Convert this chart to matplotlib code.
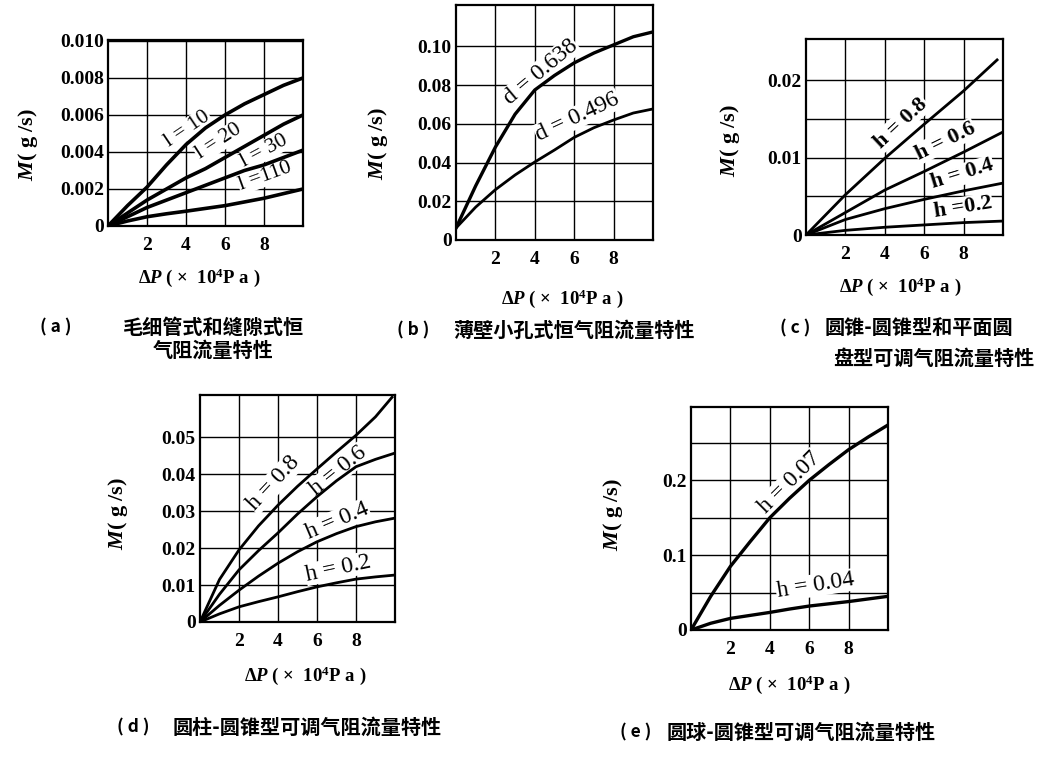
import numpy as np
import matplotlib
matplotlib.use("Agg")
import matplotlib.pyplot as plt

# 字体设置
plt.rcParams['font.family'] = ['Liberation Serif', 'Noto Sans CJK SC', 'DejaVu Sans']
plt.rcParams['mathtext.fontset'] = 'custom'
plt.rcParams['mathtext.it'] = 'Liberation Serif:italic:bold'
plt.rcParams['mathtext.rm'] = 'Liberation Serif:bold'
plt.rcParams['mathtext.bf'] = 'Liberation Serif:bold'

# ---- (a) 毛细管式和缝隙式恒气阻 ----
x_a = [0, 1, 2, 3, 4, 5, 6, 7, 8, 9, 10]
m_l10 = [0, 0.0011, 0.0021, 0.0033, 0.0044, 0.0053, 0.0060, 0.0066, 0.0071, 0.0076, 0.0080]
m_l20 = [0, 0.0007, 0.0014, 0.0020, 0.0026, 0.0031, 0.0037, 0.0043, 0.0049, 0.0055, 0.0060]
m_l30 = [0, 0.0005, 0.0010, 0.0014, 0.0018, 0.0022, 0.0026, 0.0030, 0.0033, 0.0037, 0.0041]
m_l110 = [0, 0.00027, 0.0005, 0.00066, 0.0008, 0.00095, 0.0011, 0.0013, 0.0015, 0.00175, 0.0020]
labels_a = ['l = 10', 'l = 20', 'l = 30', 'l =110']

# ---- (b) 薄壁小孔式 ----
x_b = [0, 1, 2, 3, 4, 5, 6, 7, 8, 9, 10]
m_d638 = [0.0062, 0.028, 0.048, 0.065, 0.0775, 0.085, 0.0915, 0.0966, 0.1008, 0.105, 0.1075]
m_d496 = [0.0062, 0.017, 0.026, 0.0336, 0.0403, 0.0465, 0.053, 0.058, 0.062, 0.0656, 0.0677]
labels_b = ['d = 0.638', 'd = 0.496']

# ---- (c) 圆锥-圆锥型 ----
x_c = [0, 2, 4, 6, 8, 9.7]
x_c2 = [0, 2, 4, 6, 8, 10]
m_c08 = [0, 0.0052, 0.0099, 0.0143, 0.0186, 0.0226]
m_c06 = [0, 0.0029, 0.0058, 0.0082, 0.0107, 0.0133]
m_c04 = [0, 0.0020, 0.0034, 0.0046, 0.0057, 0.0067]
m_c02 = [0, 0.0006, 0.0010, 0.0013, 0.0016, 0.0018]
labels_c = ['h = 0.8', 'h = 0.6', 'h = 0.4', 'h =0.2']

# ---- (d) 圆柱-圆锥型 ----
x_d = [0, 1, 2, 3, 4, 5, 6, 7, 8, 9, 9.85]
x_d2 = [0, 1, 2, 3, 4, 5, 6, 7, 8, 9, 10]
m_d08 = [0, 0.0115, 0.0195, 0.026, 0.0316, 0.0367, 0.0414, 0.046, 0.0505, 0.0555, 0.0608]
m_d06 = [0, 0.0075, 0.0141, 0.0193, 0.0241, 0.0292, 0.0339, 0.0382, 0.0420, 0.0440, 0.0457]
m_d04 = [0, 0.0045, 0.0086, 0.0124, 0.0159, 0.0190, 0.0217, 0.0239, 0.0258, 0.0271, 0.0281]
m_d02 = [0, 0.0022, 0.0041, 0.0055, 0.0068, 0.0082, 0.0095, 0.0106, 0.0116, 0.0122, 0.0127]
labels_d = ['h = 0.8', 'h = 0.6', 'h = 0.4', 'h = 0.2']

# ---- (e) 圆球-圆锥型 ----
x_e = [0, 1, 2, 3, 4, 5, 6, 7, 8, 9, 10]
m_e07 = [0, 0.045, 0.085, 0.118, 0.150, 0.176, 0.200, 0.221, 0.241, 0.258, 0.274]
m_e04 = [0, 0.009, 0.0155, 0.0195, 0.0235, 0.028, 0.032, 0.035, 0.038, 0.0415, 0.045]
labels_e = ['h = 0.07', 'h = 0.04']

x_ticks = [2, 4, 6, 8]
cap_prefix = ['( a )', '( b )', '( c )', '( d )', '( e )']
captions = ['毛细管式和缝隙式恒', '气阻流量特性',
            '薄壁小孔式恒气阻流量特性',
            '圆锥-圆锥型和平面圆', '盘型可调气阻流量特性',
            '圆柱-圆锥型可调气阻流量特性',
            '圆球-圆锥型可调气阻流量特性']

W, H = 1040, 758
fig = plt.figure(figsize=(10.4, 7.58), dpi=100)


def px_rect(left, top, right, bottom):
    return [left / W, 1 - bottom / H, (right - left) / W, (bottom - top) / H]


def make_axes(rect, ytop, grid_y, label_txt):
    ax = fig.add_axes(rect)
    ax.set_xlim(0, 10)
    ax.set_ylim(0, ytop)
    ax.set_xticks(x_ticks)
    ax.set_xticklabels([str(t) for t in x_ticks], fontsize=14, fontweight='bold')
    ax.set_yticks(grid_y)
    ax.set_yticklabels([label_txt.get(v, '') for v in grid_y], fontsize=14, fontweight='bold')
    ax.tick_params(length=0, pad=3)
    ax.tick_params(axis='x', pad=8)
    ax.grid(True, color='black', lw=1.0)
    for s in ax.spines.values():
        s.set_linewidth(1.6)
    ax.set_ylabel(r'$M$( g /s)', fontsize=16, fontweight='bold')
    ax.set_xlabel(r'$\mathit{\Delta P}$ ( ×  10$^{4}$P a )', fontsize=13.5, fontweight='bold')
    return ax


def curve_label(ax, txt, x, y, rot, size=17, weight='normal', lift=3.0):
    # 文字沿曲线法向稍微抬高
    a = np.radians(rot)
    ax.annotate(txt, (x, y), xytext=(-np.sin(a) * lift, np.cos(a) * lift),
                textcoords='offset points', rotation=rot, rotation_mode='anchor',
                ha='center', va='center', fontsize=size, family='Liberation Serif',
                fontweight=weight, bbox=dict(fc='white', ec='none', pad=0.5), zorder=3)


# (a)
ax = make_axes(px_rect(108, 40, 303, 226), 0.01005,
               [0, 0.002, 0.004, 0.006, 0.008, 0.010],
               {0: '0', 0.002: '0.002', 0.004: '0.004', 0.006: '0.006',
                0.008: '0.008', 0.010: '0.010'})
for m in [m_l10, m_l20, m_l30, m_l110]:
    ax.plot(x_a, m, color='black', lw=2.6, zorder=4)
for txt, x, y, r in zip(labels_a, [4.24, 5.83, 8.14, 8.14], [0.0050, 0.0043, 0.0038, 0.0024], [34, 33, 28, 20]):
    curve_label(ax, txt, x, y, r, size=15.5, lift=4)
ax.yaxis.set_label_coords(-0.35, 0.44)
ax.xaxis.set_label_coords(0.47, -0.22)

# (b)
ax = make_axes(px_rect(456, 5, 653, 240), 0.1214,
               [0, 0.02, 0.04, 0.06, 0.08, 0.10],
               {0: '0', 0.02: '0.02', 0.04: '0.04', 0.06: '0.06',
                0.08: '0.08', 0.10: '0.10'})
ax.plot(x_b, m_d638, color='black', lw=2.4, zorder=4)
ax.plot(x_b, m_d496, color='black', lw=2.0, zorder=4)
for txt, x, y, r in zip(labels_b, [4.43, 6.26], [0.0853, 0.0617], [40, 25]):
    curve_label(ax, txt, x, y, r)
ax.yaxis.set_label_coords(-0.335, 0.41)
ax.xaxis.set_label_coords(0.54, -0.20)

# (c)
ax = make_axes(px_rect(806, 39, 1003, 235), 0.0253,
               [0, 0.005, 0.01, 0.015, 0.02],
               {0: '0', 0.01: '0.01', 0.02: '0.02'})
ax.plot(x_c, m_c08, color='black', lw=2.0, zorder=4)
for m in [m_c06, m_c04, m_c02]:
    ax.plot(x_c2, m, color='black', lw=2.0, zorder=4)
for txt, x, y, r in zip(labels_c, [4.94, 7.14, 7.99, 7.99], [0.0142, 0.0118, 0.0075, 0.0032], [43, 26, 17, 9]):
    curve_label(ax, txt, x, y, r, size=16, weight='bold', lift=2)
ax.yaxis.set_label_coords(-0.325, 0.48)
ax.xaxis.set_label_coords(0.48, -0.204)

# (d)
ax = make_axes(px_rect(200, 395, 395, 622), 0.0614,
               [0, 0.01, 0.02, 0.03, 0.04, 0.05],
               {0: '0', 0.01: '0.01', 0.02: '0.02', 0.03: '0.03',
                0.04: '0.04', 0.05: '0.05'})
ax.plot(x_d, m_d08, color='black', lw=2.0, zorder=4)
for m in [m_d06, m_d04, m_d02]:
    ax.plot(x_d2, m, color='black', lw=2.0, zorder=4)
for txt, x, y, r in zip(labels_d, [3.88, 7.18, 7.09, 7.13], [0.0370, 0.0402, 0.0267, 0.0138], [47, 39, 23, 12]):
    curve_label(ax, txt, x, y, r, lift=2)
ax.yaxis.set_label_coords(-0.36, 0.48)
ax.xaxis.set_label_coords(0.54, -0.185)

# (e)
ax = make_axes(px_rect(691, 407, 888, 630), 0.298,
               [0, 0.05, 0.1, 0.15, 0.2, 0.25],
               {0: '0', 0.1: '0.1', 0.2: '0.2'})
ax.plot(x_e, m_e07, color='black', lw=2.4, zorder=4)
ax.plot(x_e, m_e04, color='black', lw=2.4, zorder=4)
for txt, x, y, r in zip(labels_e, [5.11, 6.33], [0.194, 0.056], [45, 9]):
    curve_label(ax, txt, x, y, r, lift=2)
ax.yaxis.set_label_coords(-0.335, 0.52)
ax.xaxis.set_label_coords(0.50, -0.193)

# 图题
cap_kw = dict(fontweight='bold', family=['Noto Sans CJK SC', 'DejaVu Sans'], va='center', ha='left')
pre_pos = [(40, 327), (397, 330), (780, 328), (117, 727), (620, 732)]
for txt, (px, py) in zip(cap_prefix, pre_pos):
    fig.text(px / W, 1 - py / H, txt, fontsize=12.5, **cap_kw)
main_pos = [(123, 327), (153, 350), (453, 330), (825, 328), (833, 358), (173, 727), (667, 732)]
for txt, (px, py) in zip(captions, main_pos):
    fig.text(px / W, 1 - py / H, txt, fontsize=14.5, **cap_kw)

fig.savefig('out.png', dpi=100, facecolor='white')
